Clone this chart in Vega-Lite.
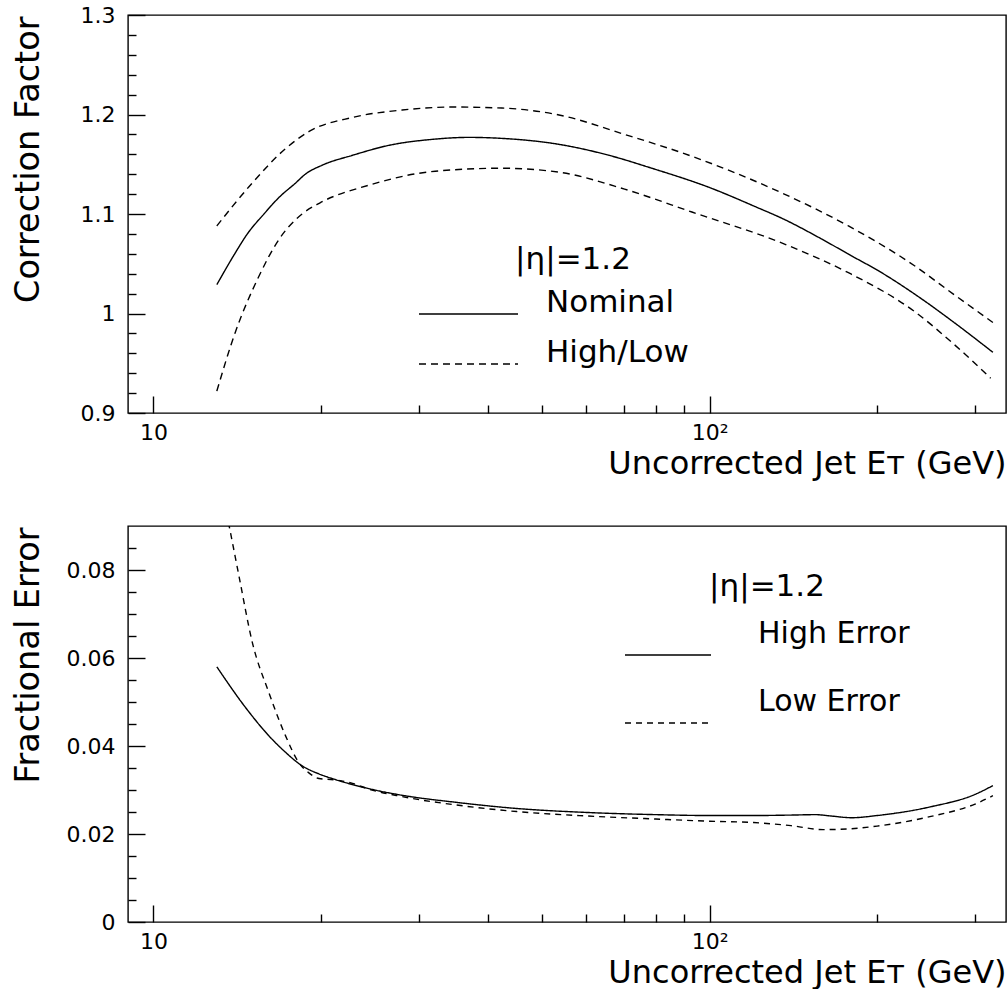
{
  "$schema": "https://vega.github.io/schema/vega-lite/v6.json",
  "background": "white",
  "padding": {"left": 10, "top": 3, "right": 0, "bottom": 0},
  "datasets": {
    "top": [
      {"E": 13.0, "v": 1.029, "kind": "Nominal", "curve": "nom"},
      {"E": 14.0, "v": 1.060, "kind": "Nominal", "curve": "nom"},
      {"E": 14.75, "v": 1.080, "kind": "Nominal", "curve": "nom"},
      {"E": 15.8, "v": 1.100, "kind": "Nominal", "curve": "nom"},
      {"E": 16.84, "v": 1.117, "kind": "Nominal", "curve": "nom"},
      {"E": 18.0, "v": 1.131, "kind": "Nominal", "curve": "nom"},
      {"E": 18.75, "v": 1.14, "kind": "Nominal", "curve": "nom"},
      {"E": 20.1, "v": 1.149, "kind": "Nominal", "curve": "nom"},
      {"E": 22.8, "v": 1.159, "kind": "Nominal", "curve": "nom"},
      {"E": 26.5, "v": 1.169, "kind": "Nominal", "curve": "nom"},
      {"E": 31.7, "v": 1.175, "kind": "Nominal", "curve": "nom"},
      {"E": 36.9, "v": 1.177, "kind": "Nominal", "curve": "nom"},
      {"E": 42.3, "v": 1.176, "kind": "Nominal", "curve": "nom"},
      {"E": 53.6, "v": 1.17, "kind": "Nominal", "curve": "nom"},
      {"E": 65.9, "v": 1.159, "kind": "Nominal", "curve": "nom"},
      {"E": 78.7, "v": 1.146, "kind": "Nominal", "curve": "nom"},
      {"E": 99.5, "v": 1.127, "kind": "Nominal", "curve": "nom"},
      {"E": 122.4, "v": 1.106, "kind": "Nominal", "curve": "nom"},
      {"E": 134.5, "v": 1.096, "kind": "Nominal", "curve": "nom"},
      {"E": 158.8, "v": 1.075, "kind": "Nominal", "curve": "nom"},
      {"E": 179.8, "v": 1.058, "kind": "Nominal", "curve": "nom"},
      {"E": 201, "v": 1.043, "kind": "Nominal", "curve": "nom"},
      {"E": 240, "v": 1.015, "kind": "Nominal", "curve": "nom"},
      {"E": 275, "v": 0.991, "kind": "Nominal", "curve": "nom"},
      {"E": 323, "v": 0.961, "kind": "Nominal", "curve": "nom"},
      {"E": 13.0, "v": 1.088, "kind": "High/Low", "curve": "high"},
      {"E": 15.1, "v": 1.132, "kind": "High/Low", "curve": "high"},
      {"E": 17.3, "v": 1.166, "kind": "High/Low", "curve": "high"},
      {"E": 19.05, "v": 1.183, "kind": "High/Low", "curve": "high"},
      {"E": 22.77, "v": 1.197, "kind": "High/Low", "curve": "high"},
      {"E": 28.0, "v": 1.2045, "kind": "High/Low", "curve": "high"},
      {"E": 34.4, "v": 1.2075, "kind": "High/Low", "curve": "high"},
      {"E": 42.3, "v": 1.2065, "kind": "High/Low", "curve": "high"},
      {"E": 53.6, "v": 1.1995, "kind": "High/Low", "curve": "high"},
      {"E": 70.3, "v": 1.18, "kind": "High/Low", "curve": "high"},
      {"E": 92.9, "v": 1.158, "kind": "High/Low", "curve": "high"},
      {"E": 135, "v": 1.121, "kind": "High/Low", "curve": "high"},
      {"E": 177.6, "v": 1.088, "kind": "High/Low", "curve": "high"},
      {"E": 233.5, "v": 1.048, "kind": "High/Low", "curve": "high"},
      {"E": 275, "v": 1.019, "kind": "High/Low", "curve": "high"},
      {"E": 323, "v": 0.991, "kind": "High/Low", "curve": "high"},
      {"E": 13.0, "v": 0.922, "kind": "High/Low", "curve": "low"},
      {"E": 14.03, "v": 0.981, "kind": "High/Low", "curve": "low"},
      {"E": 15.4, "v": 1.035, "kind": "High/Low", "curve": "low"},
      {"E": 16.84, "v": 1.075, "kind": "High/Low", "curve": "low"},
      {"E": 18.5, "v": 1.1, "kind": "High/Low", "curve": "low"},
      {"E": 19.9, "v": 1.111, "kind": "High/Low", "curve": "low"},
      {"E": 24.4, "v": 1.129, "kind": "High/Low", "curve": "low"},
      {"E": 32.1, "v": 1.143, "kind": "High/Low", "curve": "low"},
      {"E": 42.3, "v": 1.146, "kind": "High/Low", "curve": "low"},
      {"E": 53.6, "v": 1.142, "kind": "High/Low", "curve": "low"},
      {"E": 70.3, "v": 1.125, "kind": "High/Low", "curve": "low"},
      {"E": 92.9, "v": 1.102, "kind": "High/Low", "curve": "low"},
      {"E": 136, "v": 1.07, "kind": "High/Low", "curve": "low"},
      {"E": 177.6, "v": 1.041, "kind": "High/Low", "curve": "low"},
      {"E": 233.5, "v": 1.002, "kind": "High/Low", "curve": "low"},
      {"E": 275, "v": 0.969, "kind": "High/Low", "curve": "low"},
      {"E": 320, "v": 0.935, "kind": "High/Low", "curve": "low"}
    ],
    "bottom": [
      {"E": 13.0, "v": 0.058, "kind": "High Error"},
      {"E": 14.65, "v": 0.0487, "kind": "High Error"},
      {"E": 16.13, "v": 0.0423, "kind": "High Error"},
      {"E": 17.3, "v": 0.0385, "kind": "High Error"},
      {"E": 18.5, "v": 0.0355, "kind": "High Error"},
      {"E": 19.8, "v": 0.0337, "kind": "High Error"},
      {"E": 21.2, "v": 0.0324, "kind": "High Error"},
      {"E": 24.4, "v": 0.0303, "kind": "High Error"},
      {"E": 28.0, "v": 0.0288, "kind": "High Error"},
      {"E": 35, "v": 0.0272, "kind": "High Error"},
      {"E": 45, "v": 0.0258, "kind": "High Error"},
      {"E": 60, "v": 0.0249, "kind": "High Error"},
      {"E": 80, "v": 0.0244, "kind": "High Error"},
      {"E": 100, "v": 0.0242, "kind": "High Error"},
      {"E": 120, "v": 0.0242, "kind": "High Error"},
      {"E": 140, "v": 0.0243, "kind": "High Error"},
      {"E": 155, "v": 0.0244, "kind": "High Error"},
      {"E": 165, "v": 0.0241, "kind": "High Error"},
      {"E": 180, "v": 0.0237, "kind": "High Error"},
      {"E": 200, "v": 0.0242, "kind": "High Error"},
      {"E": 250, "v": 0.0262, "kind": "High Error"},
      {"E": 300, "v": 0.029, "kind": "High Error"},
      {"E": 323, "v": 0.031, "kind": "High Error"},
      {"E": 13.0, "v": 0.103, "kind": "Low Error"},
      {"E": 13.68, "v": 0.09, "kind": "Low Error"},
      {"E": 14.25, "v": 0.0786, "kind": "Low Error"},
      {"E": 15.06, "v": 0.0635, "kind": "Low Error"},
      {"E": 16.13, "v": 0.0521, "kind": "Low Error"},
      {"E": 17.28, "v": 0.0423, "kind": "Low Error"},
      {"E": 18.26, "v": 0.0362, "kind": "Low Error"},
      {"E": 19.03, "v": 0.0339, "kind": "Low Error"},
      {"E": 19.84, "v": 0.0326, "kind": "Low Error"},
      {"E": 21.2, "v": 0.0323, "kind": "Low Error"},
      {"E": 22.8, "v": 0.0315, "kind": "Low Error"},
      {"E": 24.4, "v": 0.0302, "kind": "Low Error"},
      {"E": 28, "v": 0.0285, "kind": "Low Error"},
      {"E": 35, "v": 0.0266, "kind": "Low Error"},
      {"E": 45, "v": 0.0251, "kind": "Low Error"},
      {"E": 60, "v": 0.0241, "kind": "Low Error"},
      {"E": 80, "v": 0.0234, "kind": "Low Error"},
      {"E": 100, "v": 0.0229, "kind": "Low Error"},
      {"E": 120, "v": 0.0226, "kind": "Low Error"},
      {"E": 140, "v": 0.0219, "kind": "Low Error"},
      {"E": 160, "v": 0.021, "kind": "Low Error"},
      {"E": 180, "v": 0.0212, "kind": "Low Error"},
      {"E": 200, "v": 0.0218, "kind": "Low Error"},
      {"E": 250, "v": 0.024, "kind": "Low Error"},
      {"E": 300, "v": 0.0268, "kind": "Low Error"},
      {"E": 323, "v": 0.0287, "kind": "Low Error"}
    ]
  },
  "vconcat": [
    {
      "width": 878,
      "height": 398,
      "data": {"name": "top"},
      "resolve": {"axis": {"x": "independent", "y": "independent"}},
      "layer": [
        {
          "mark": {"type": "line", "color": "black", "strokeWidth": 1.4, "interpolate": "monotone", "clip": true},
          "encoding": {
            "x": {"field": "E", "type": "quantitative",
              "scale": {"type": "log", "domain": [9, 341], "nice": false},
              "axis": {"orient": "bottom", "values": [10, 100], "labelExpr": "datum.value == 100 ? '10²' : '10'",
                "ticks": false, "domain": false, "grid": false, "labelPadding": 9, "labelFontSize": 22,
                "labelFlush": false, "labelOverlap": false,
                "title": "Uncorrected Jet Eᴛ (GeV)", "titleFontSize": 32, "titleAnchor": "end", "titleAlign": "right",
                "titleBaseline": "alphabetic", "titleY": 60}},
            "y": {"field": "v", "type": "quantitative",
              "scale": {"domain": [0.9, 1.3], "nice": false, "zero": false},
              "axis": {"orient": "left", "values": [0.9, 1, 1.1, 1.2, 1.3], "format": "~g",
                "ticks": false, "domain": false, "grid": false, "labelPadding": 13, "labelFontSize": 22,
                "labelFlush": false, "labelOverlap": false,
                "title": "Correction Factor", "titleFontSize": 33.5, "titleAnchor": "end", "titleAngle": 270,
                "titleAlign": "right", "titleBaseline": "alphabetic", "titleX": -89.5, "titleY": 1}},
            "strokeDash": {"field": "kind", "type": "nominal",
              "scale": {"domain": ["Nominal", "High/Low"], "range": [[1, 0], [7, 5]]},
              "legend": {"title": "|η|=1.2", "orient": "none", "legendX": 290, "legendY": 230,
                "symbolType": "stroke", "symbolSize": 9801, "symbolStrokeWidth": 1.4, "symbolStrokeColor": "black",
                "labelFontSize": 31, "labelOffset": 27, "labelBaseline": "alphabetic", "labelLimit": 0,
                "titleFontSize": 31, "titleAnchor": "middle", "titlePadding": 15, "titleLimit": 0,
                "clipHeight": 46, "rowPadding": 0, "padding": 0,
                "encode": {"title": {"update": {"dx": {"value": 20}}}, "labels": {"update": {"dy": {"value": -2}}}}}},
            "detail": {"field": "curve", "type": "nominal"}
          }
        },
        {
          "mark": {"type": "line", "opacity": 0},
          "encoding": {
            "x": {"field": "E", "type": "quantitative",
              "axis": {"orient": "bottom", "values": [10, 100], "tickSize": -17, "labels": false, "domain": false, "grid": false, "title": null}},
            "y": {"field": "v", "type": "quantitative",
              "axis": {"orient": "left", "values": [0.9, 1, 1.1, 1.2, 1.3], "tickSize": -17, "labels": false, "domain": false, "grid": false, "title": null}}
          }
        },
        {
          "mark": {"type": "line", "opacity": 0},
          "encoding": {
            "x": {"field": "E", "type": "quantitative",
              "axis": {"orient": "bottom", "values": [20, 30, 40, 50, 60, 70, 80, 90, 200, 300], "tickSize": -8, "labels": false, "domain": false, "grid": false, "title": null}},
            "y": {"field": "v", "type": "quantitative",
              "axis": {"orient": "left", "values": [0.92, 0.94, 0.96, 0.98, 1.02, 1.04, 1.06, 1.08, 1.12, 1.14, 1.16, 1.18, 1.22, 1.24, 1.26, 1.28], "tickSize": -8, "labels": false, "domain": false, "grid": false, "title": null}}
          }
        }
      ]
    },
    {
      "width": 878,
      "height": 396,
      "data": {"name": "bottom"},
      "resolve": {"axis": {"x": "independent", "y": "independent"}},
      "layer": [
        {
          "mark": {"type": "line", "color": "black", "strokeWidth": 1.4, "interpolate": "monotone", "clip": true},
          "encoding": {
            "x": {"field": "E", "type": "quantitative",
              "scale": {"type": "log", "domain": [9, 341], "nice": false},
              "axis": {"orient": "bottom", "values": [10, 100], "labelExpr": "datum.value == 100 ? '10²' : '10'",
                "ticks": false, "domain": false, "grid": false, "labelPadding": 9, "labelFontSize": 22,
                "labelFlush": false, "labelOverlap": false,
                "title": "Uncorrected Jet Eᴛ (GeV)", "titleFontSize": 32, "titleAnchor": "end", "titleAlign": "right",
                "titleBaseline": "alphabetic", "titleY": 60}},
            "y": {"field": "v", "type": "quantitative",
              "scale": {"domain": [0, 0.09], "nice": false, "zero": false},
              "axis": {"orient": "left", "values": [0, 0.02, 0.04, 0.06, 0.08], "format": "~g",
                "ticks": false, "domain": false, "grid": false, "labelPadding": 13, "labelFontSize": 22,
                "labelFlush": false, "labelOverlap": false,
                "title": "Fractional Error", "titleFontSize": 33.5, "titleAnchor": "end", "titleAngle": 270,
                "titleAlign": "right", "titleBaseline": "alphabetic", "titleX": -89.5, "titleY": 1}},
            "strokeDash": {"field": "kind", "type": "nominal",
              "scale": {"domain": ["High Error", "Low Error"], "range": [[1, 0], [6, 5]]},
              "legend": {"title": "|η|=1.2", "orient": "none", "legendX": 496, "legendY": 46,
                "symbolType": "stroke", "symbolSize": 7396, "symbolStrokeWidth": 1.4, "symbolStrokeColor": "black",
                "labelFontSize": 30, "labelOffset": 46, "labelBaseline": "alphabetic", "labelLimit": 0,
                "titleFontSize": 31, "titleAnchor": "middle", "titlePadding": 20, "titleLimit": 0,
                "clipHeight": 64, "rowPadding": 0, "padding": 0,
                "encode": {"labels": {"update": {"dy": {"value": -12}}}}}}
          }
        },
        {
          "mark": {"type": "line", "opacity": 0},
          "encoding": {
            "x": {"field": "E", "type": "quantitative",
              "axis": {"orient": "bottom", "values": [10, 100], "tickSize": -17, "labels": false, "domain": false, "grid": false, "title": null}},
            "y": {"field": "v", "type": "quantitative",
              "axis": {"orient": "left", "values": [0, 0.02, 0.04, 0.06, 0.08], "tickSize": -17, "labels": false, "domain": false, "grid": false, "title": null}}
          }
        },
        {
          "mark": {"type": "line", "opacity": 0},
          "encoding": {
            "x": {"field": "E", "type": "quantitative",
              "axis": {"orient": "bottom", "values": [20, 30, 40, 50, 60, 70, 80, 90, 200, 300], "tickSize": -8, "labels": false, "domain": false, "grid": false, "title": null}},
            "y": {"field": "v", "type": "quantitative",
              "axis": {"orient": "left", "values": [0.005, 0.01, 0.015, 0.025, 0.03, 0.035, 0.045, 0.05, 0.055, 0.065, 0.07, 0.075, 0.085], "tickSize": -8, "labels": false, "domain": false, "grid": false, "title": null}}
          }
        }
      ]
    }
  ],
  "spacing": 113,
  "bounds": "flush",
  "resolve": {"scale": {"strokeDash": "independent"}, "legend": {"strokeDash": "independent"}},
  "config": {
    "font": "DejaVu Sans",
    "view": {"stroke": "black", "strokeWidth": 1.4},
    "axis": {"labelFont": "DejaVu Sans", "titleFont": "DejaVu Sans", "labelColor": "black", "titleColor": "black",
      "tickColor": "black", "tickWidth": 1.4, "titleFontWeight": "normal", "labelFontWeight": "normal"},
    "legend": {"labelFont": "DejaVu Sans", "titleFont": "DejaVu Sans", "labelColor": "black", "titleColor": "black",
      "titleFontWeight": "normal", "labelFontWeight": "normal"}
  }
}
